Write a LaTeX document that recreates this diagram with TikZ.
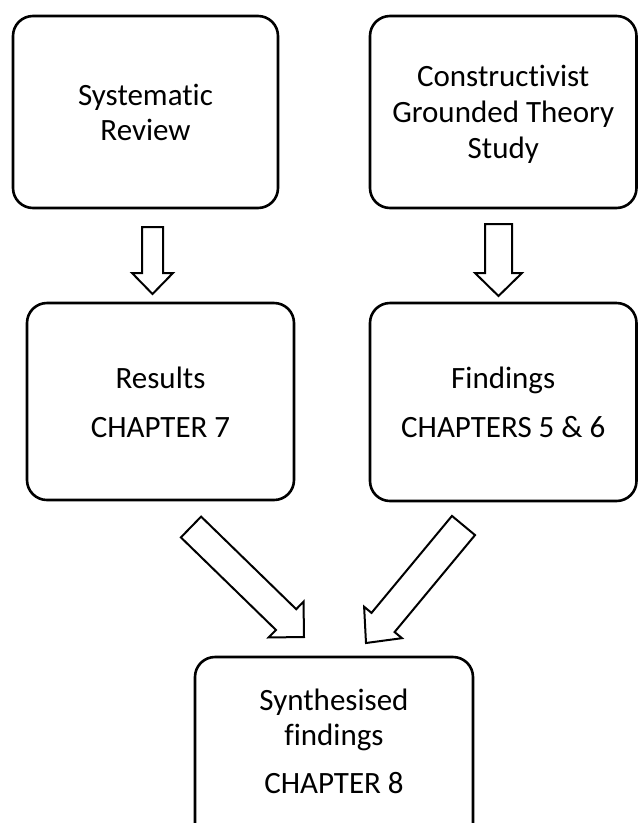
\documentclass[tikz,border=0pt]{standalone}
\usepackage{fontspec}
\setmainfont[Ligatures={NoCommon}]{Carlito}
\usetikzlibrary{calc}

% Hollow block arrow: tail, tip, shaft half-width, head half-width, head length
\newcommand\blockarr[5]{%
  \path ($(#2)!#5!(#1)$) coordinate (ba-s);
  \draw[blockarrow] ($(#1)!#3!90:(#2)$) -- ($(ba-s)!#3!-90:(#1)$)
    -- ($(ba-s)!#4!-90:(#1)$) -- (#2) -- ($(ba-s)!#4!90:(#1)$)
    -- ($(ba-s)!#3!90:(#1)$) -- ($(#1)!#3!-90:(#2)$) -- cycle;}

\begin{document}
\begin{tikzpicture}[x=1pt,y=-1pt,
  box/.style={draw=black, line width=2.6pt, rounded corners=20pt, inner sep=0pt},
  lbl/.style={anchor=base, inner sep=0pt, font=\fontsize{31}{36}\selectfont},
  blockarrow/.style={draw=black, fill=white, line width=2pt, line join=miter}]
\useasboundingbox (0,0) rectangle (638,823);
\clip (0,0) rectangle (638,823);

% boxes
\node[box, minimum width=265pt, minimum height=192pt] (sr)  at (145.5,112) {};
\node[box, minimum width=266.5pt, minimum height=192pt] (cgt) at (503.25,112) {};
\node[box, minimum width=267pt, minimum height=197pt] (res) at (160.5,401.5) {};
\node[box, minimum width=266.5pt, minimum height=198pt] (fin) at (503.25,402) {};
\node[box, minimum width=278pt, minimum height=200pt] (syn) at (334,757) {};

% labels
\node[lbl] (sr1) at (145.5,105) {Systematic};
\node[lbl] (sr2) at (145.5,140.5) {Review};
\node[lbl] (cg1) at (503.25,86) {Constructivist};
\node[lbl] (cg2) at (503.25,122.5) {Grounded Theory};
\node[lbl] (cg3) at (503.25,158.5) {Study};
\node[lbl] (re1) at (160.5,388) {Results};
\node[lbl] (re2) at (160.5,437) {CHAPTER 7};
\node[lbl] (fi1) at (503.25,388) {Findings};
\node[lbl] (fi2) at (503.25,437) {CHAPTERS 5 \& 6};
\node[lbl] (sy1) at (334,710) {Synthesised};
\node[lbl] (sy2) at (334,745) {findings};
\node[lbl] (sy3) at (334,793) {CHAPTER 8};

% arrow end points
\coordinate (a1t) at (152.5,227);  \coordinate (a1h) at (152.5,294);
\coordinate (a2t) at (498.5,224);  \coordinate (a2h) at (498.5,296);
\coordinate (a3t) at (191,527);    \coordinate (a3h) at (304,637);
\coordinate (a4t) at (463.5,525.5);\coordinate (a4h) at (366,643);

\blockarr{a1t}{a1h}{10.5pt}{20.5pt}{21pt}
\blockarr{a2t}{a2h}{13.5pt}{23.5pt}{23pt}
\blockarr{a3t}{a3h}{14.5pt}{25pt}{25pt}
\blockarr{a4t}{a4h}{15pt}{24.6pt}{26.7pt}
\end{tikzpicture}
\end{document}
